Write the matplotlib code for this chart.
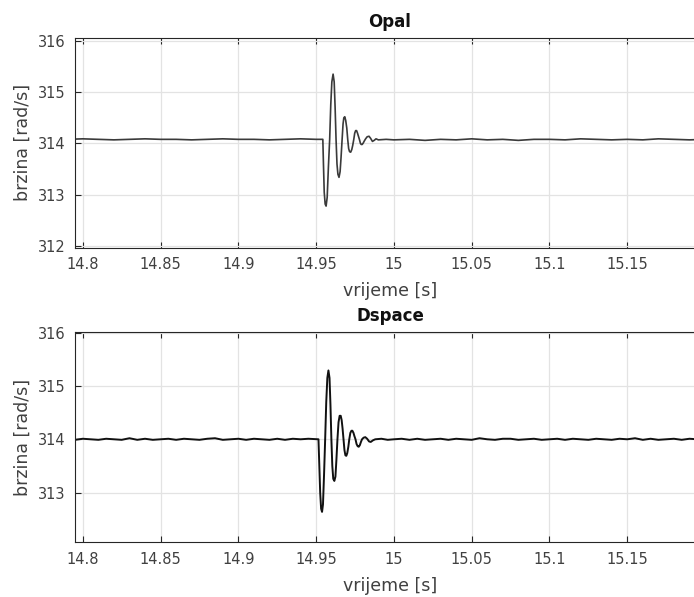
import numpy as np
import matplotlib.pyplot as plt

plt.rcParams['font.family'] = ['DejaVu Sans']

# --- Opal (top) ---
opal_t = [14.790, 14.800, 14.810, 14.820, 14.830, 14.840, 14.850, 14.860, 14.870,
          14.880, 14.890, 14.900, 14.910, 14.920, 14.930, 14.940, 14.950, 14.9543,
          14.9547, 14.9552, 14.9558, 14.9564, 14.9571, 14.9579, 14.9587, 14.9594,
          14.9601, 14.9609, 14.9616, 14.9622, 14.9628, 14.9634, 14.9640, 14.9647,
          14.9654, 14.9660, 14.9667, 14.9673, 14.9678, 14.9684, 14.9690, 14.9697,
          14.9703, 14.9709, 14.9715, 14.9722, 14.9729, 14.9735, 14.9742, 14.9748,
          14.9754, 14.9760, 14.9766, 14.9773, 14.9779, 14.9785, 14.9790, 14.9796,
          14.9803, 14.9810, 14.9818, 14.9828, 14.9840, 14.9850, 14.9862, 14.9873,
          14.9885, 14.9900, 14.995, 15.000, 15.010, 15.020, 15.030, 15.040, 15.050,
          15.060, 15.070, 15.080, 15.090, 15.100, 15.110, 15.120, 15.130, 15.140,
          15.150, 15.160, 15.170, 15.180, 15.190, 15.200]
opal_w = [314.08, 314.09, 314.08, 314.07, 314.08, 314.09, 314.08, 314.08, 314.07,
          314.08, 314.09, 314.08, 314.08, 314.07, 314.08, 314.09, 314.08, 314.08,
          313.60, 313.05, 312.82, 312.78, 312.95, 313.55, 314.08, 314.75,
          315.20, 315.35, 315.20, 314.70, 314.08, 313.60, 313.40, 313.34,
          313.45, 313.72, 314.08, 314.38, 314.50, 314.52, 314.45, 314.30,
          314.08, 313.90, 313.84, 313.83, 313.88, 313.96, 314.08, 314.20,
          314.25, 314.25, 314.20, 314.13, 314.07, 314.00, 313.98, 313.98,
          314.01, 314.05, 314.09, 314.13, 314.14, 314.10, 314.04, 314.06,
          314.09, 314.07, 314.08, 314.07, 314.08, 314.06, 314.08, 314.07, 314.09,
          314.07, 314.08, 314.06, 314.08, 314.08, 314.07, 314.09, 314.08, 314.07,
          314.08, 314.07, 314.09, 314.08, 314.07, 314.08]

# --- Dspace (bottom) ---
ds_t = [14.790, 14.795, 14.800, 14.805, 14.810, 14.815, 14.820, 14.825, 14.830,
        14.835, 14.840, 14.845, 14.850, 14.855, 14.860, 14.865, 14.870, 14.875,
        14.880, 14.885, 14.890, 14.895, 14.900, 14.905, 14.910, 14.915, 14.920,
        14.925, 14.930, 14.935, 14.940, 14.945, 14.9515,
        14.9520, 14.9526, 14.9532, 14.9538, 14.9544, 14.9551, 14.9558, 14.9565,
        14.9572, 14.9579, 14.9586, 14.9592, 14.9598, 14.9604, 14.9610, 14.9617,
        14.9624, 14.9630, 14.9637, 14.9644, 14.9651, 14.9658, 14.9664, 14.9670,
        14.9676, 14.9682, 14.9688, 14.9694, 14.9700, 14.9707, 14.9713, 14.9720,
        14.9727, 14.9733, 14.9740, 14.9746, 14.9753, 14.9760, 14.9767, 14.9774,
        14.9781, 14.9788, 14.9795, 14.9805, 14.9816, 14.9828, 14.9840, 14.9851,
        14.9865, 14.988, 14.992, 14.996, 15.000, 15.005, 15.010, 15.015, 15.020,
        15.025, 15.030, 15.035, 15.040, 15.045, 15.050, 15.055, 15.060, 15.065,
        15.070, 15.075, 15.080, 15.085, 15.090, 15.095, 15.100, 15.105, 15.110,
        15.115, 15.120, 15.125, 15.130, 15.135, 15.140, 15.145, 15.150, 15.155,
        15.160, 15.165, 15.170, 15.175, 15.180, 15.185, 15.190, 15.195, 15.200]
ds_w = [314.01, 313.99, 314.01, 314.00, 313.99, 314.01, 314.00, 313.99, 314.02,
        313.99, 314.01, 313.99, 314.00, 314.01, 313.99, 314.01, 314.00, 313.99,
        314.01, 314.02, 313.99, 314.00, 314.01, 313.99, 314.01, 314.00, 313.99,
        314.01, 313.99, 314.01, 314.00, 314.01, 314.00,
        313.55, 313.00, 312.70, 312.64, 312.78, 313.35, 314.00, 314.70,
        315.15, 315.29, 315.15, 314.65, 314.00, 313.50, 313.26, 313.22,
        313.30, 313.60, 314.00, 314.32, 314.44, 314.44, 314.36, 314.20,
        314.00, 313.80, 313.70, 313.69, 313.74, 313.86, 314.00, 314.12,
        314.16, 314.16, 314.12, 314.06, 314.00, 313.91, 313.87, 313.86,
        313.89, 313.95, 314.00, 314.03, 314.04, 314.01, 313.96, 313.95,
        313.98, 314.00, 314.01, 313.99, 314.00, 314.01, 313.99, 314.01, 313.99,
        314.00, 314.01, 313.99, 314.01, 314.00, 313.99, 314.02, 314.00, 313.99,
        314.01, 314.01, 313.99, 314.00, 314.01, 313.99, 314.00, 314.01, 313.99,
        314.01, 314.00, 313.99, 314.01, 314.00, 313.99, 314.01, 314.00, 314.02,
        313.99, 314.01, 313.99, 314.00, 314.01, 313.99, 314.01, 314.00, 313.99]

xticks = [14.8, 14.85, 14.9, 14.95, 15.0, 15.05, 15.1, 15.15]
xticklabels = ['14.8', '14.85', '14.9', '14.95', '15', '15.05', '15.1', '15.15']
opal_yticks = [312, 313, 314, 315, 316]
ds_yticks = [313, 314, 315, 316]

txt = '#404040'
fig = plt.figure(figsize=(6.94, 5.97), dpi=100)
ax1 = fig.add_axes([0.1081, 0.5851, 0.9078, 0.3518])
ax2 = fig.add_axes([0.1081, 0.0916, 0.9078, 0.3523])

ax1.plot(opal_t, opal_w, color='#3a3a3a', lw=1.2)
ax2.plot(ds_t, ds_w, color='#111111', lw=1.4)

for ax, title, yt, yl in [(ax1, 'Opal', opal_yticks, (311.97, 316.06)),
                          (ax2, 'Dspace', ds_yticks, (312.07, 316.01))]:
    ax.set_xlim(14.795, 15.2)
    ax.set_ylim(*yl)
    ax.set_xticks(xticks)
    ax.set_xticklabels(xticklabels)
    ax.set_yticks(yt)
    ax.grid(True, color='#e3e3e3', lw=0.9)
    ax.set_axisbelow(True)
    ax.tick_params(direction='in', length=4.5, width=0.8, colors='#262626',
                   labelcolor=txt, labelsize=10.5, top=True, right=True, pad=7)
    for s in ax.spines.values():
        s.set_color('#262626')
        s.set_linewidth(0.8)
    ax.set_title(title, fontsize=12, fontweight='bold', color='#111111', pad=8)
    ax.set_xlabel('vrijeme [s]', fontsize=12.5, color=txt, labelpad=7)
    ax.set_ylabel('brzina [rad/s]', fontsize=12.5, color=txt, labelpad=4)

fig.savefig('out.png', dpi=100)
